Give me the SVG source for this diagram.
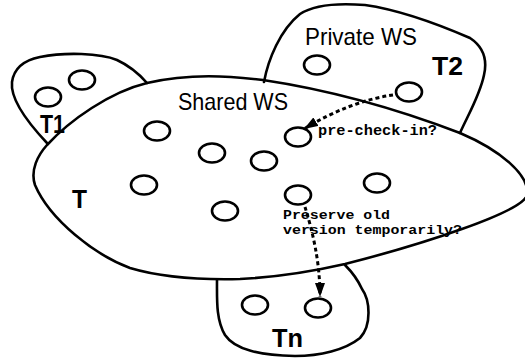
<svg xmlns="http://www.w3.org/2000/svg" width="525" height="359" viewBox="0 0 525 359">
<style>
.blob{fill:none;stroke:#000;stroke-width:2.6;stroke-linejoin:round;stroke-linecap:round}
.obj{fill:none;stroke:#000;stroke-width:2.6}
.lbl{font-family:"Liberation Sans",Arial,sans-serif;font-size:24px;fill:#000}
.tl{font-family:"Liberation Sans",Arial,sans-serif;font-size:25px;font-weight:bold;fill:#000}
.mono{font-family:"Liberation Mono","Courier New",monospace;font-size:14px;font-weight:bold;fill:#000}
.mono2{font-family:"Liberation Mono","Courier New",monospace;font-size:12.5px;font-weight:bold;fill:#000}
.dash{fill:none;stroke:#000;stroke-width:3;stroke-dasharray:4 3}
</style>
<defs>
<marker id="ah" viewBox="0 0 14 10" refX="14" refY="5" markerWidth="14" markerHeight="10" orient="auto" markerUnits="userSpaceOnUse">
<path d="M0,0 L14,5 L0,10 Z" fill="#000"/>
</marker>
</defs>
<rect width="525" height="359" fill="#fff"/>
<g id="shared-ws">
<path class="blob" d="M47,145 C70,120 110,92 147,83 C190,73 230,76 263,80 C330,90 400,110 460,133 C500,150 530,175 527,195 C523,212 420,245 345,264 C310,272 280,277 240,279 C200,280 160,277 130,268 C95,255 50,220 35,185 C30,170 38,155 47,145 Z"/>
<text class="lbl" x="178" y="110" textLength="110" lengthAdjust="spacingAndGlyphs">Shared WS</text>
<text class="tl" x="72" y="208" textLength="15" lengthAdjust="spacingAndGlyphs">T</text>
<ellipse class="obj" cx="157" cy="131" rx="13" ry="9.5"/>
<ellipse class="obj" cx="212" cy="153" rx="13" ry="9.5"/>
<ellipse class="obj" cx="264" cy="161" rx="13" ry="9.5"/>
<ellipse class="obj" cx="298" cy="137" rx="13" ry="9.5"/>
<ellipse class="obj" cx="144" cy="185" rx="13" ry="9.5"/>
<ellipse class="obj" cx="225" cy="211" rx="13" ry="9.5"/>
<ellipse class="obj" cx="298" cy="195" rx="13" ry="9.5"/>
<ellipse class="obj" cx="377" cy="183" rx="13" ry="9.5"/>
</g>
<g id="private-ws">
<path class="blob" d="M264,82 C268,60 280,30 300,14 C315,4 340,3 365,5 C400,10 440,25 470,38 C485,48 487,62 484,75 C480,95 468,115 460,133"/>
<text class="lbl" x="305" y="45" textLength="112" lengthAdjust="spacingAndGlyphs">Private WS</text>
<text class="tl" x="432" y="75" textLength="31" lengthAdjust="spacingAndGlyphs">T2</text>
<ellipse class="obj" cx="317" cy="65" rx="13" ry="9.5"/>
<ellipse class="obj" cx="409" cy="92" rx="13" ry="9.5"/>
</g>
<g id="t1">
<path class="blob" d="M47,143 C30,125 10,100 12,82 C14,68 25,60 40,57 C65,52 100,53 117,60 C130,66 140,75 147,83"/>
<text class="tl" x="40" y="133" textLength="25" lengthAdjust="spacingAndGlyphs">T1</text>
<ellipse class="obj" cx="82" cy="80" rx="13" ry="9.5"/>
<ellipse class="obj" cx="48" cy="97" rx="13" ry="9.5"/>
</g>
<g id="tn">
<path class="blob" d="M217,280 C217,300 216,320 225,335 C235,350 260,355 295,356 C320,356 345,350 360,338 C372,325 370,300 362,289 C357,278 350,270 345,265"/>
<text class="tl" x="272" y="347" textLength="31" lengthAdjust="spacingAndGlyphs">Tn</text>
<ellipse class="obj" cx="255" cy="305" rx="13" ry="9.5"/>
<ellipse class="obj" cx="318" cy="308" rx="13" ry="9.5"/>
</g>
<g id="connectors">
<path class="dash" d="M393,95 C365,99 335,110 304,129" marker-end="url(#ah)"/>
<path class="dash" d="M305,207 C312,230 320,260 320,297" marker-end="url(#ah)"/>
<text class="mono" x="318" y="135" textLength="119" lengthAdjust="spacingAndGlyphs">pre-check-in?</text>
<text class="mono2" x="283" y="219" textLength="107" lengthAdjust="spacingAndGlyphs">Preserve old</text>
<text class="mono2" x="283" y="233.5" textLength="179" lengthAdjust="spacingAndGlyphs">version temporarily?</text>
</g>
</svg>
